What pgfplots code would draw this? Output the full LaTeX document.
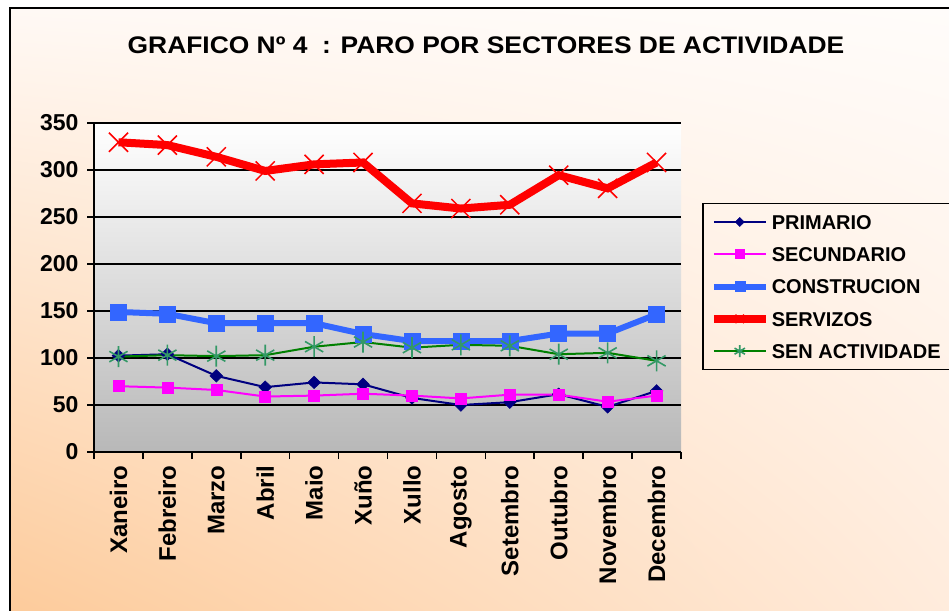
\documentclass[border=0pt]{standalone}
\usepackage{fontspec}
\setmainfont{Liberation Sans}
\usepackage{graphicx}
\usepackage{pgfplots}
\pgfplotsset{compat=1.18}
\usetikzlibrary{shadings}
\definecolor{cnavy}{RGB}{0,0,128}
\definecolor{cmag}{RGB}{255,0,255}
\definecolor{cblue}{RGB}{51,102,255}
\definecolor{cred}{RGB}{255,0,0}
\definecolor{cgreen}{RGB}{0,128,0}
\definecolor{cstar}{RGB}{51,153,102}
\definecolor{cgray}{RGB}{184,184,184}
\definecolor{bgLL}{RGB}{253,203,155}
\definecolor{bgLR}{RGB}{255,236,221}
\definecolor{bgUL}{RGB}{255,249,245}
\definecolor{bgUR}{RGB}{255,252,250}
\begin{document}
\begin{tikzpicture}[x=1pt,y=1pt]
\useasboundingbox (0,0) rectangle (949,610);
\clip (0,0) rectangle (949,610);
\fill[white] (0,0) rectangle (949,610);
\shade[lower left=bgLL, lower right=bgLR, upper left=bgUL, upper right=bgUR] (9.5,-2) rectangle (960,601.5);
\draw[line width=2pt] (9.5,-5) -- (9.5,601.5) -- (960,601.5);
\node[anchor=base, inner sep=0pt, font=\bfseries\fontsize{24}{24}\selectfont] at (486,556.7) {\scalebox{1.1}[1]{GRAFICO Nº 4\ \ : PARO POR SECTORES DE ACTIVIDADE}};
\begin{axis}[
  at={(94pt,158pt)}, anchor=south west, scale only axis,
  width=587pt, height=329pt,
  xmin=-0.5, xmax=11.5, ymin=0, ymax=350,
  clip=false,
  axis background/.style={shade, top color=white, bottom color=cgray},
  xtick={-0.5,0.5,1.5,2.5,3.5,4.5,5.5,6.5,7.5,8.5,9.5,10.5,11.5},
  xticklabels={},
  extra x ticks={0,1,2,3,4,5,6,7,8,9,10,11},
  extra x tick labels={Xaneiro,Febreiro,Marzo,Abril,Maio,Xuño,Xullo,Agosto,Setembro,Outubro,Novembro,Decembro},
  extra x tick style={major tick length=0pt, grid=none},
  ytick={0,50,100,150,200,250,300,350},
  axis x line*=bottom, axis y line*=left,
  ymajorgrids,
  major grid style={black, line width=1.6pt},
  axis line style={black, line width=1.8pt},
  tick style={black, line width=1.6pt},
  major tick length=7pt,
  tick align=outside,
  /pgf/number format/assume math mode=true,
  yticklabel style={font=\bfseries\fontsize{23}{23}\selectfont, xshift=-5pt},
  xticklabel style={font=\bfseries\fontsize{24}{24}\selectfont, yshift=-10pt, rotate=90, anchor=east},
  legend style={at={(axis description cs:1.0358,0.757)}, anchor=north west,
    draw=black, line width=1.5pt, fill=none,
    font=\bfseries\fontsize{20}{20}\selectfont,
    row sep=13.8pt, inner xsep=7pt, inner ysep=9pt,
    nodes={inner sep=2pt, text height=14.5pt, text depth=0pt}},
  legend cell align=left,
  legend image code/.code={\draw[mark repeat=2,mark phase=2] plot coordinates {(0pt,0pt) (26pt,0pt) (52pt,0pt)};},
]
\addplot[cnavy, line width=2pt, mark=diamond*, mark size=6.3, mark options={xscale=1.35, solid, line width=0.5pt}, legend image post style={mark size=4.5}]
 coordinates {(0,102.5) (1,104) (2,81) (3,69) (4,74) (5,72) (6,57.5) (7,50) (8,53) (9,61.5) (10,48) (11,65)};
\addlegendentry{PRIMARIO}
\addplot[cmag, line width=2pt, mark=square*, mark size=5.5, mark options={solid, line width=0.5pt}, legend image post style={mark size=4.5}]
 coordinates {(0,70) (1,68.5) (2,66) (3,59) (4,60) (5,62) (6,60) (7,57) (8,61) (9,61) (10,53.5) (11,60)};
\addlegendentry{SECUNDARIO}
\addplot[cblue, line width=6pt, mark=square*, mark size=8, mark options={solid, line width=0.5pt}, legend image post style={mark size=5}]
 coordinates {(0,149) (1,147) (2,137) (3,137) (4,137) (5,125.5) (6,118) (7,118) (8,118) (9,126) (10,126) (11,146.5)};
\addlegendentry{CONSTRUCION}
\addplot[cred, line width=8pt, mark=x, mark size=13.5, mark options={solid, line width=1.5pt}, legend image post style={mark size=6}]
 coordinates {(0,329.5) (1,326.5) (2,314) (3,299) (4,306) (5,308) (6,264.5) (7,259) (8,263) (9,294.5) (10,280.5) (11,308)};
\addlegendentry{SERVIZOS}
\addplot[cgreen, line width=2pt, mark=asterisk, mark size=10.5, mark options={solid, draw=cstar, line width=1.6pt}, legend image post style={mark size=6}]
 coordinates {(0,101.5) (1,103) (2,102) (3,103) (4,112) (5,117) (6,111) (7,114) (8,113) (9,104) (10,105.5) (11,97)};
\addlegendentry{SEN ACTIVIDADE}
\end{axis}
\end{tikzpicture}
\end{document}
